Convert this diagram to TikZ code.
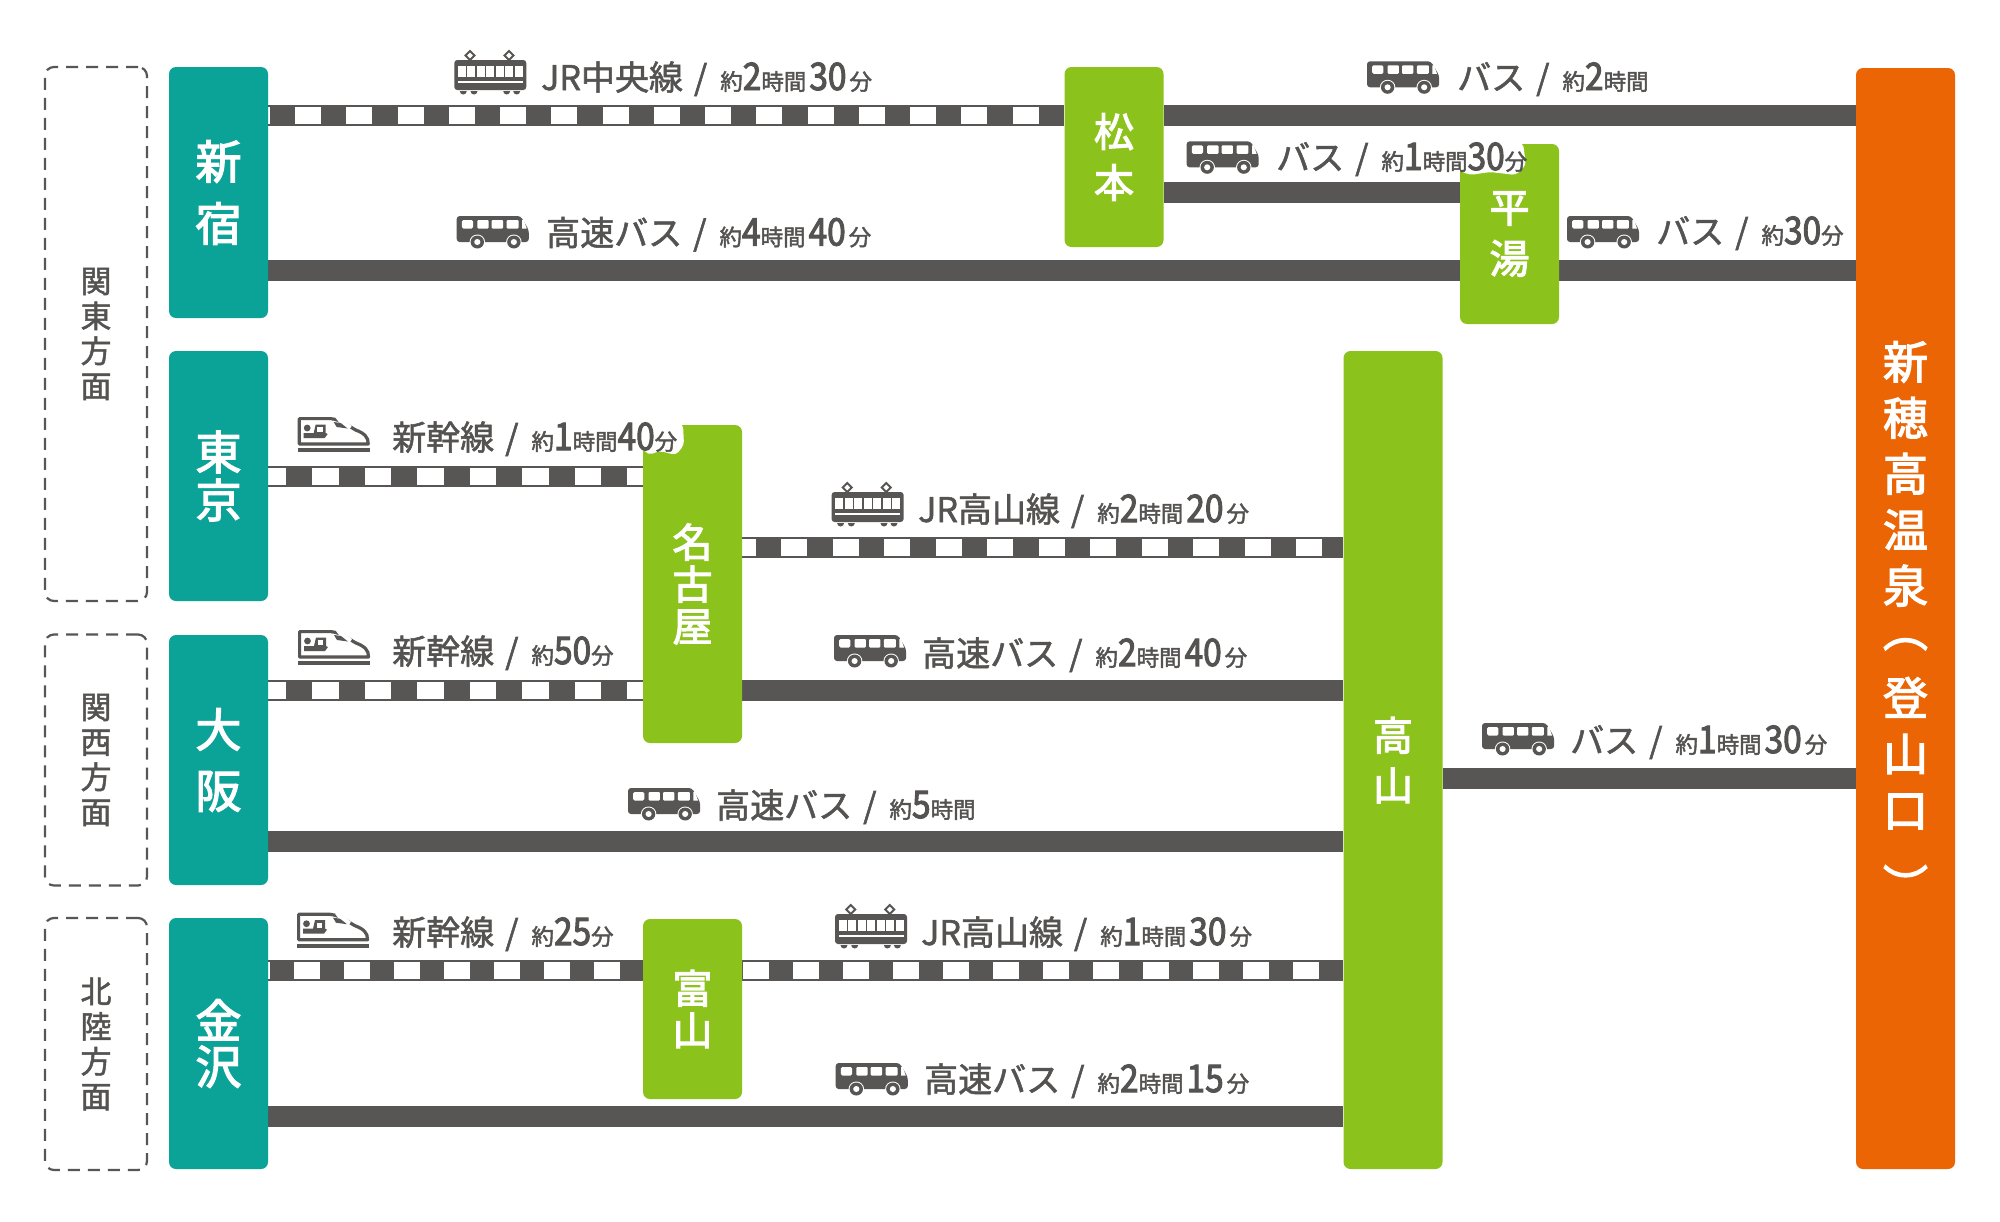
\documentclass[tikz,border=0pt]{standalone}
\usepackage{fontspec}
\usetikzlibrary{backgrounds}
\setmainfont{Noto Sans CJK JP}
\newfontfamily\dgfont{Noto Sans CJK JP}[FakeStretch=0.88,FakeBold=2.6]
\newfontfamily\mainfontb{Noto Sans CJK JP}[FakeBold=1.6]
\newfontfamily\smfont{Noto Sans CJK JP}[FakeBold=2]
\newfontfamily\stfont{Noto Sans CJK JP}[FakeBold=2.8]
\newcommand\tmn[1]{{\dgfont\fontsize{38}{40}\selectfont #1}}
\newcommand\smn[1]{{\smfont\fontsize{22.5}{26}\selectfont #1}}
\newcommand\tgap{\hspace{3pt}}
\newcommand\slsh{\hspace{11pt}/\hspace{13pt}}
\definecolor{teal}{HTML}{0BA398}
\definecolor{leaf}{HTML}{8CC21C}
\definecolor{goal}{HTML}{EC6504}
\definecolor{ink}{HTML}{575654}
\definecolor{txt}{HTML}{545352}
\tikzset{
  box/.style={rounded corners=7pt,inner sep=0pt,minimum width=99pt,text=white,align=center},
  startbox/.style={box,fill=teal},
  viabox/.style={box,fill=leaf},
  goalbox/.style={box,fill=goal},
  area/.style={draw=ink,line width=2.2pt,dash pattern=on 12pt off 8pt,rounded corners=9pt,inner sep=0pt,minimum width=102pt,text=txt,align=center,font=\mainfontb\fontsize{31}{35}\selectfont},
  lab/.style={anchor=base west,inner sep=0pt,text=txt,font=\mainfontb\fontsize{34}{40}\selectfont},
  busline/.style={draw=ink,line width=21pt},
  railwhite/.style={draw=white,line width=17pt},
  busicon/.pic={
    \begin{scope}[xscale=1.03]
    \fill[ink,rounded corners=3pt] (0,26) -- (0,0) -- (62,0) -- (70,14) -- (70,26) -- cycle;
    \fill[white,rounded corners=1.5pt] (5,4) rectangle (16,12.5);
    \fill[white,rounded corners=1pt] (20,4) rectangle (31,12.5);
    \fill[white,rounded corners=1pt] (34,4) rectangle (45,12.5);
    \fill[white,rounded corners=1pt] (48.5,4) rectangle (60,12.5);
    \fill[white] (63.5,4) -- (65,4) -- (68,12.5) -- (63.5,12.5) -- cycle;
    \fill[white] (20,26) circle (7.5pt) (55.5,26) circle (7.5pt);
    \fill[ink] (20,26) circle (6.5pt) (55.5,26) circle (6.5pt);
    \fill[white] (20,26) circle (3pt) (55.5,26) circle (3pt);
    \end{scope}
  },
  trainicon/.pic={
    \fill[ink,rounded corners=3pt] (0,10) rectangle (72,40);
    \foreach \wx in {3.5,13,22.5,32,41.5,51,60.5}
      \fill[white] (\wx,16) rectangle ++(8,11);
    \fill[white] (3.5,31) rectangle (68.5,32.5);
    \foreach \px in {15.7,54.7}{
      \draw[ink,line width=2pt] (\px,1) -- (\px+4.5,5.5) -- (\px,10) -- (\px-4.5,5.5) -- cycle;
      \draw[ink,line width=2pt] (\px-9,10.5) -- (\px+9,10.5);
    }
    \foreach \wx in {9,19.7,52.4,62.4}
      \fill[ink] (\wx-3.5,41) arc[start angle=180,end angle=360,radius=3.5pt] -- cycle;
  },
  shinicon/.pic={
    \draw[ink,line width=3.2pt,line join=round] (1.6,1.6) -- (33,1.6) .. controls (45,3) and (52,10) .. (58,13) .. controls (66,16) and (71,20) .. (70.5,27) -- (1.6,27) -- cycle;
    \fill[white] (38,1) -- (44,1) -- (54,9) -- (52,12) -- (44,9) -- cycle;
    \fill[ink] (36,5) -- (43,6) -- (50,11.5) -- (39,10) -- cycle;
    \fill[ink] (6,21) -- (27,21) -- (30,17) -- (28,16) -- (28,7.5) -- (18,7.5) -- (16,16) -- (6,16) -- cycle;
    \fill[white] (19.5,10) rectangle (25,15);
    \fill[ink] (9.5,11) circle (3.4pt);
    \fill[ink] (0,31) rectangle (72,35);
  },
}
\newcommand\rail[6]{% from, to, y, on, off, phase
  \draw[busline] (#1.east |- 0,#3) -- (#2.west |- 0,#3);
  \draw[railwhite,dash pattern=on #4pt off #5pt,dash phase=#6pt] (#1.east |- 0,#3) -- (#2.west |- 0,#3);
}
\newcommand\bline[3]{\draw[busline] (#1.east |- 0,#3) -- (#2.west |- 0,#3);}
\begin{document}
\begin{tikzpicture}[x=1pt,y=-1pt]
\path[use as bounding box] (0,0) rectangle (2000,1221);
% areas
\node[area,minimum height=534pt] (kanto) at (96,334) {関\\東\\方\\面};
\node[area,minimum height=251pt] (kansai) at (96,760) {関\\西\\方\\面};
\node[area,minimum height=252pt] (hokuriku) at (96,1044) {北\\陸\\方\\面};
% origins
\node[startbox,minimum height=251pt,font=\stfont\fontsize{46}{62}\selectfont] (shinjuku) at (218.5,192.5) {新\\宿};
\node[startbox,minimum height=250pt,font=\stfont\fontsize{46}{48}\selectfont] (tokyo) at (218.5,476) {東\\京};
\node[startbox,minimum height=250pt,font=\stfont\fontsize{46}{61}\selectfont] (osaka) at (218.5,760) {大\\阪};
\node[startbox,minimum height=251pt,font=\stfont\fontsize{46}{46}\selectfont] (kanazawa) at (218.5,1043.5) {金\\沢};
% via
\node[viabox,minimum height=180pt,font=\stfont\fontsize{40}{51}\selectfont] (matsumoto) at (1114,157) {松\\本};
\node[viabox,minimum height=180pt,font=\stfont\fontsize{40}{51}\selectfont] (hirayu) at (1509.5,234) {平\\湯};
\node[viabox,minimum height=818pt,font=\stfont\fontsize{40}{50}\selectfont] (takayama) at (1393,760) {高\\山};
\node[viabox,minimum height=318pt,font=\stfont\fontsize{40}{42}\selectfont] (nagoya) at (692.5,584) {名\\古\\屋};
\node[viabox,minimum height=180pt,font=\stfont\fontsize{40}{42}\selectfont] (toyama) at (692.5,1009) {富\\山};
% goal
\node[goalbox,minimum height=1101pt] (hotaka) at (1905.5,618.5) {};
\node[inner sep=0pt,text=white,align=center,font=\stfont\fontsize{45}{56}\selectfont] (hotakat) at (1905.5,612) {新\\穂\\高\\温\\泉\\\smash{\raisebox{12pt}{︵}}\\登\\山\\口\\\smash{\raisebox{-20pt}{︶}}};
% connectors
\begin{scope}[on background layer]
\fill[white] (0,0) rectangle (2000,1221);
\rail{shinjuku}{matsumoto}{115}{26}{25.25}{24.25}
\bline{matsumoto}{hotaka}{115}
\bline{matsumoto}{hirayu}{192.5}
\bline{shinjuku}{hirayu}{270}
\bline{hirayu}{hotaka}{270}
\rail{tokyo}{nagoya}{476.5}{26.5}{26}{8.7}
\rail{nagoya}{takayama}{547}{26}{25.5}{12.5}
\rail{osaka}{nagoya}{690.5}{26.5}{26}{8.7}
\bline{nagoya}{takayama}{690}
\bline{osaka}{takayama}{841}
\rail{kanazawa}{toyama}{970}{26}{24}{24.7}
\rail{toyama}{takayama}{970}{26}{24}{49}
\bline{kanazawa}{takayama}{1116.5}
\bline{takayama}{hotaka}{778}
\end{scope}
% white halos behind the labels that overlap a box
\fill[white,rounded corners=4pt] (642,424) -- (683,424) -- (684,445) -- (676,455) -- (660,451) -- (648,455) -- (642,447) -- cycle;
\fill[white,rounded corners=4pt] (1460,143) -- (1523,143) -- (1526,165) -- (1516,175) -- (1490,172) -- (1470,175) -- (1460,171) -- cycle;
% icons
\pic at (454.3,50) {trainicon};
\pic at (1367,61.3) {busicon};
\pic at (1186.6,141.3) {busicon};
\pic at (456.7,216) {busicon};
\pic at (1567,216) {busicon};
\pic at (297.7,417) {shinicon};
\pic at (831.6,482) {trainicon};
\pic at (298,630) {shinicon};
\pic at (834,635) {busicon};
\pic at (628,788) {busicon};
\pic at (1482,723) {busicon};
\pic at (297,912.7) {shinicon};
\pic at (835,904) {trainicon};
\pic at (835.7,1063) {busicon};
% labels
\node[lab] (l1) at (541,90) {JR中央線\slsh\smn{約}\tmn{2}\smn{時間}\tgap\tmn{30}\tgap\smn{分}};
\node[lab] (l2) at (1457,90) {バス\slsh\smn{約}\tmn{2}\smn{時間}};
\node[lab] (l3) at (1276,170) {バス\slsh\smn{約}\tmn{1}\smn{時間}\tmn{30}\smn{分}};
\node[lab] (l4) at (546,245.5) {高速バス\slsh\smn{約}\tmn{4}\smn{時間}\tgap\tmn{40}\tgap\smn{分}};
\node[lab] (l5) at (1656,244) {バス\slsh\smn{約}\tmn{30}\smn{分}};
\node[lab] (l6) at (392,450) {新幹線\slsh\smn{約}\tmn{1}\smn{時間}\tmn{40}\smn{分}};
\node[lab] (l7) at (918,522) {JR高山線\slsh\smn{約}\tmn{2}\smn{時間}\tgap\tmn{20}\tgap\smn{分}};
\node[lab] (l8) at (392,664) {新幹線\slsh\smn{約}\tmn{50}\smn{分}};
\node[lab] (l9) at (922,666) {高速バス\slsh\smn{約}\tmn{2}\smn{時間}\tgap\tmn{40}\tgap\smn{分}};
\node[lab] (l10) at (716,818) {高速バス\slsh\smn{約}\tmn{5}\smn{時間}};
\node[lab] (l11) at (1570,753) {バス\slsh\smn{約}\tmn{1}\smn{時間}\tgap\tmn{30}\tgap\smn{分}};
\node[lab] (l12) at (392,945) {新幹線\slsh\smn{約}\tmn{25}\smn{分}};
\node[lab] (l13) at (921,945) {JR高山線\slsh\smn{約}\tmn{1}\smn{時間}\tgap\tmn{30}\tgap\smn{分}};
\node[lab] (l14) at (924,1092) {高速バス\slsh\smn{約}\tmn{2}\smn{時間}\tgap\tmn{15}\tgap\smn{分}};
\end{tikzpicture}
\end{document}
